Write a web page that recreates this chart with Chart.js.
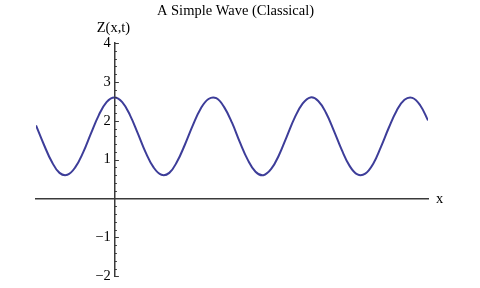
<!DOCTYPE html>
<html>
<head>
<meta charset="utf-8">
<script src="https://cdn.jsdelivr.net/npm/chart.js@4.4.0/dist/chart.umd.min.js"></script>
<style>
  html, body { margin: 0; padding: 0; background: #ffffff; }
  #c { display: block; }
</style>
</head>
<body>
<canvas id="c" width="480" height="288"></canvas>
<script>
// Values
const xValues = [-5, -4.5, -4, -3.5, -3, -2.5, -2, -1.5, -1, -0.5,
  0, 0.5, 1, 1.5, 2, 2.5, 3, 3.5, 4, 4.5,
  5, 5.5, 6, 6.5, 7, 7.5, 8, 8.5, 9, 9.5,
  10, 10.5, 11, 11.5, 12, 12.5, 13, 13.5, 14, 14.5,
  15, 15.5, 16, 16.5, 17, 17.5, 18, 18.5, 19, 19.5, 20];
const zValues = [1.88, 1.39, 0.95, 0.66, 0.61, 0.80, 1.18, 1.67, 2.14, 2.48,
  2.60, 2.48, 2.14, 1.67, 1.18, 0.80, 0.61, 0.66, 0.95, 1.39,
  1.88, 2.31, 2.56, 2.58, 2.35, 1.95, 1.45, 1.00, 0.69, 0.60,
  0.76, 1.12, 1.60, 2.08, 2.44, 2.60, 2.51, 2.20, 1.74, 1.25,
  0.84, 0.62, 0.64, 0.89, 1.33, 1.82, 2.26, 2.54, 2.59, 2.40, 2.01];
const yTickLabels = ['\u22122', '\u22121', '', '1', '2', '3', '4'];
const yMajorValues = [-2, -1, 0, 1, 2, 3, 4];
const titleText = 'A Simple Wave (Classical)';
const yAxisTitle = 'Z(x,t)';
const xAxisTitle = 'x';

const SERIF = '"Liberation Serif", "Times New Roman", serif';
const AXIS_COLOR = '#3a3a3a';

const points = xValues.map((x, i) => ({ x: x, y: zValues[i] }));

const decor = {
  id: 'decor',
  afterDraw(chart) {
    const { ctx } = chart;
    const xs = chart.scales.x, ys = chart.scales.y;
    const x0 = xs.getPixelForValue(0);
    ctx.save();
    // tick marks on the right side of the y axis
    ctx.strokeStyle = AXIS_COLOR;
    ctx.lineWidth = 1;
    ys.ticks.forEach(t => {
      const v = t.value;
      if (Math.abs(v) < 1e-6) return;
      const major = Math.abs(v - Math.round(v)) < 1e-6;
      const py = Math.round(ys.getPixelForValue(v)) + 0.5;
      ctx.beginPath();
      ctx.moveTo(x0, py);
      ctx.lineTo(x0 + (major ? 4.5 : 2.5), py);
      ctx.stroke();
    });
    // texts
    ctx.fillStyle = '#000';
    ctx.font = '14.5px ' + SERIF;
    ctx.textAlign = 'center';
    ctx.textBaseline = 'alphabetic';
    ctx.fillText(titleText, 235.5, 14.5);
    ctx.fillText(yAxisTitle, x0 - 1, 32);
    ctx.textAlign = 'left';
    ctx.textBaseline = 'middle';
    ctx.fillText(xAxisTitle, xs.right + 8, ys.getPixelForValue(0) + 1);
    ctx.restore();
  }
};

new Chart(document.getElementById('c'), {
  type: 'line',
  data: {
    datasets: [{
      data: points,
      borderColor: 'rgb(61,61,153)',
      borderWidth: 2,
      pointRadius: 0,
      tension: 0.4,
      fill: false
    }]
  },
  options: {
    responsive: false,
    animation: false,
    devicePixelRatio: 1,
    layout: { padding: { left: 36, right: 52, top: 43, bottom: 11 } },
    plugins: { legend: { display: false }, title: { display: false }, tooltip: { enabled: false } },
    scales: {
      x: {
        type: 'linear',
        min: -5, max: 20,
        position: { y: 0 },
        ticks: { display: false },
        grid: { display: true, drawOnChartArea: false, drawTicks: false, color: 'rgba(0,0,0,0)' },
        border: { display: true, color: AXIS_COLOR, width: 1.5 }
      },
      y: {
        type: 'linear',
        min: -2, max: 4,
        position: { x: 0 },
        ticks: {
          stepSize: 0.2,
          autoSkip: false,
          color: '#000',
          font: { family: SERIF, size: 14.5 },
          callback: function (v) {
            const r = Math.round(v);
            if (Math.abs(v - r) > 1e-6) return '';
            const i = yMajorValues.indexOf(r);
            return i >= 0 && yTickLabels[i] ? yTickLabels[i] + ' ' : '';
          }
        },
        grid: { display: true, drawOnChartArea: false, drawTicks: false, color: 'rgba(0,0,0,0)' },
        border: { display: true, color: AXIS_COLOR, width: 1.5 }
      }
    }
  },
  plugins: [decor]
});
</script>
</body>
</html>
